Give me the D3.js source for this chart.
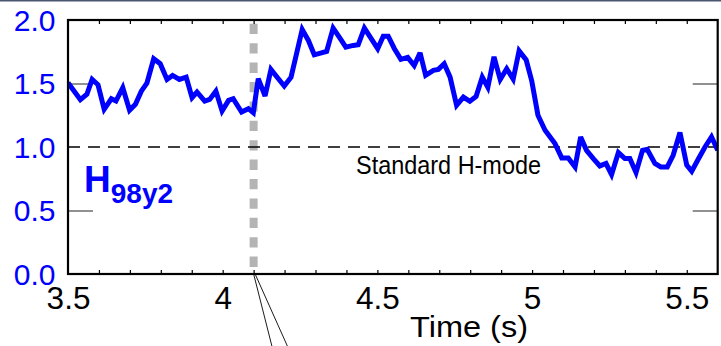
<!DOCTYPE html>
<html>
<head>
<meta charset="utf-8">
<script src="https://cdn.jsdelivr.net/npm/d3@7/dist/d3.min.js"></script>
<style>
  html, body { margin: 0; padding: 0; background: #fff; }
  svg { display: block; }
  text { font-family: "Liberation Sans", Arial, Helvetica, sans-serif; }
</style>
</head>
<body>
<svg id="chart" width="721" height="346"></svg>
<script>
// Confinement factor H98y2 versus time (s)
const times = [
  3.500, 3.540, 3.561, 3.578, 3.597, 3.617, 3.640, 3.655, 3.677, 3.699,
  3.718, 3.737, 3.755, 3.777, 3.798, 3.820, 3.838, 3.860, 3.882, 3.901,
  3.917, 3.942, 3.958, 3.978, 3.998, 4.019, 4.034, 4.061, 4.083, 4.099,
  4.115, 4.137, 4.156, 4.178, 4.199, 4.221, 4.257, 4.277, 4.296, 4.336,
  4.357, 4.379, 4.398, 4.422, 4.438, 4.458, 4.479, 4.501, 4.519, 4.535,
  4.555, 4.576, 4.598, 4.619, 4.638, 4.656, 4.681, 4.697, 4.716, 4.735,
  4.756, 4.778, 4.799, 4.819, 4.839, 4.857, 4.877, 4.897, 4.918, 4.939,
  4.958, 4.981, 4.999, 5.019, 5.042, 5.074, 5.096, 5.117, 5.139, 5.157,
  5.176, 5.198, 5.219, 5.239, 5.257, 5.279, 5.300, 5.316, 5.336, 5.357,
  5.372, 5.397, 5.416, 5.437, 5.456, 5.478, 5.500, 5.516, 5.537, 5.559,
  5.580, 5.600
];
const h98 = [
  1.506, 1.373, 1.415, 1.532, 1.490, 1.297, 1.380, 1.362, 1.467, 1.289,
  1.336, 1.440, 1.503, 1.695, 1.656, 1.532, 1.564, 1.532, 1.550, 1.388,
  1.433, 1.362, 1.375, 1.440, 1.283, 1.367, 1.380, 1.275, 1.302, 1.270,
  1.538, 1.401, 1.611, 1.543, 1.480, 1.550, 1.925, 1.839, 1.726, 1.752,
  1.936, 1.857, 1.786, 1.800, 1.805, 1.936, 1.857, 1.774, 1.873, 1.873,
  1.774, 1.690, 1.705, 1.642, 1.742, 1.564, 1.603, 1.611, 1.656, 1.550,
  1.328, 1.393, 1.360, 1.397, 1.550, 1.470, 1.710, 1.531, 1.616, 1.534,
  1.757, 1.685, 1.520, 1.250, 1.132, 1.027, 0.914, 0.914, 0.843, 1.079,
  0.974, 0.909, 0.851, 0.870, 0.783, 0.956, 0.909, 0.909, 0.799, 0.974,
  0.982, 0.870, 0.843, 0.843, 0.935, 1.114, 0.857, 0.809, 0.904, 1.000,
  1.079, 0.974
];

const xMajorTicks = [3.5, 4, 4.5, 5, 5.5];
const yTickValues = [0, 0.5, 1.0, 1.5, 2.0];
const referenceLevel = 1.0;       // standard H-mode confinement
const transitionTime = 4.1;       // marked time

const svg = d3.select("#chart");
const blue = "#0000ff";

const x = d3.scaleLinear().domain([3.5, 5.6]).range([68, 717.7]);
const y = d3.scaleLinear().domain([0, 2]).range([274, 20]);

const [x0, x1] = x.range();
const [yb, yt] = y.range();

// thin border along the top of the slide
svg.append("rect").attr("x", 0).attr("y", 0).attr("width", 721).attr("height", 1.5)
  .attr("fill", "#4a5670");

svg.append("defs").append("clipPath").attr("id", "plot-clip")
  .append("rect").attr("x", x0).attr("y", yt).attr("width", x1 - x0).attr("height", yb - yt);

// vertical marker at the transition time
svg.append("line")
  .attr("x1", x(transitionTime)).attr("x2", x(transitionTime))
  .attr("y1", y(1.97)).attr("y2", yb)
  .attr("stroke", "#b4b4b4").attr("stroke-width", 8)
  .attr("stroke-dasharray", "10.3,9.1");

// standard H-mode reference line
svg.append("line")
  .attr("x1", x0).attr("x2", x1)
  .attr("y1", y(referenceLevel)).attr("y2", y(referenceLevel))
  .attr("stroke", "#000").attr("stroke-width", 1.6)
  .attr("stroke-dasharray", "12,8");

svg.append("text")
  .attr("x", 356).attr("y", y(referenceLevel) + 26.8)
  .attr("font-size", 25).attr("fill", "#000")
  .attr("textLength", 185).attr("lengthAdjust", "spacingAndGlyphs")
  .text("Standard H-mode");

// y tick marks on both sides (0.5 and 1.5)
const yInner = [0.5, 1.5];
svg.append("g").attr("transform", `translate(${x0},0)`)
  .call(d3.axisRight(y).tickValues(yInner).tickSize(25).tickFormat(""))
  .call(g => g.select(".domain").remove())
  .call(g => g.selectAll("line").attr("stroke", "#555").attr("stroke-width", 1.3));
svg.append("g").attr("transform", `translate(${x1},0)`)
  .call(d3.axisLeft(y).tickValues(yInner).tickSize(25).tickFormat(""))
  .call(g => g.select(".domain").remove())
  .call(g => g.selectAll("line").attr("stroke", "#555").attr("stroke-width", 1.3));

// y tick labels
svg.append("g").attr("transform", `translate(${x0},0)`)
  .call(d3.axisLeft(y).tickValues(yTickValues).tickSize(0).tickPadding(12.5)
    .tickFormat(d3.format(".1f")))
  .call(g => g.select(".domain").remove())
  .call(g => g.selectAll("text")
    .attr("font-family", "Liberation Sans, Arial, sans-serif")
    .attr("font-size", 30).attr("fill", blue)
    .attr("dy", null).attr("dominant-baseline", "auto")
    .attr("y", 10));

// x minor ticks, inward, bottom and top
const xMinor = d3.range(36, 56).map(d => d / 10);
svg.append("g").attr("transform", `translate(0,${yb})`)
  .call(d3.axisTop(x).tickValues(xMinor).tickSize(4).tickFormat(""))
  .call(g => g.select(".domain").remove())
  .call(g => g.selectAll("line").attr("stroke", "#000").attr("stroke-width", 1.2));
svg.append("g").attr("transform", `translate(0,${yt})`)
  .call(d3.axisBottom(x).tickValues(xMinor).tickSize(4).tickFormat(""))
  .call(g => g.select(".domain").remove())
  .call(g => g.selectAll("line").attr("stroke", "#000").attr("stroke-width", 1.2));

// x tick labels
svg.append("g").attr("transform", `translate(0,${yb})`)
  .call(d3.axisBottom(x).tickValues(xMajorTicks).tickSize(0).tickPadding(0)
    .tickFormat(d => String(d)))
  .call(g => g.select(".domain").remove())
  .call(g => g.selectAll("text")
    .attr("font-family", "Liberation Sans, Arial, sans-serif")
    .attr("font-size", 31.5).attr("fill", "#000")
    .attr("dy", null).attr("y", 35));

// data line
svg.append("path")
  .datum(times.map((t, i) => [t, h98[i]]))
  .attr("clip-path", "url(#plot-clip)")
  .attr("fill", "none").attr("stroke", blue).attr("stroke-width", 5)
  .attr("stroke-linejoin", "miter").attr("stroke-miterlimit", 3)
  .attr("d", d3.line().x(d => x(d[0])).y(d => y(d[1])));

// plot frame
svg.append("rect")
  .attr("x", x0).attr("y", yt).attr("width", x1 - x0).attr("height", yb - yt)
  .attr("fill", "none").attr("stroke", "#000").attr("stroke-width", 2.2);

// series label
const lab = svg.append("text").attr("x", 84).attr("y", 191.5)
  .attr("fill", blue).attr("font-weight", "bold");
lab.append("tspan").attr("font-size", 37).text("H");
lab.append("tspan").attr("font-size", 28).attr("dy", 11.5).attr("dx", 0).text("98y2");

// axis title
svg.append("text")
  .attr("x", 469).attr("y", 337)
  .attr("text-anchor", "middle").attr("font-size", 30).attr("fill", "#000")
  .attr("textLength", 118).attr("lengthAdjust", "spacingAndGlyphs")
  .text("Time (s)");

// leader lines from the marked time toward the panel below
svg.append("line")
  .attr("x1", x(transitionTime)).attr("y1", yb)
  .attr("x2", x(4.159)).attr("y2", 346)
  .attr("stroke", "#000").attr("stroke-width", 0.9);
svg.append("line")
  .attr("x1", x(transitionTime) + 1.5).attr("y1", yb)
  .attr("x2", x(4.209)).attr("y2", 346)
  .attr("stroke", "#000").attr("stroke-width", 0.9);
</script>
</body>
</html>
